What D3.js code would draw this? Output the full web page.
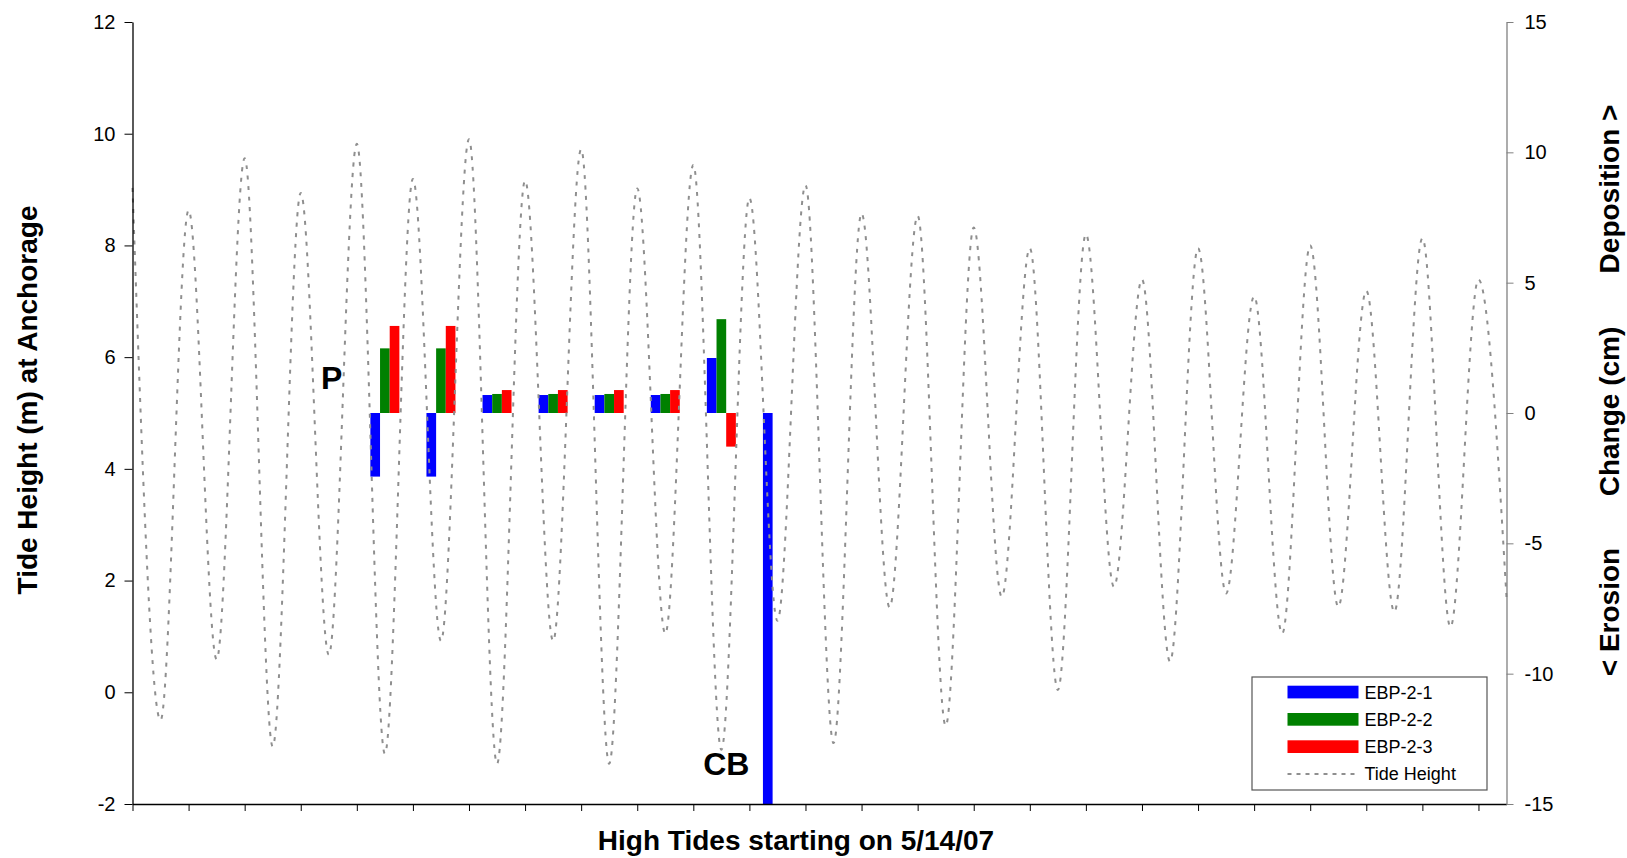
<!DOCTYPE html>
<html><head><meta charset="utf-8">
<script src="https://cdn.jsdelivr.net/npm/d3@7"></script>
<style>
body{margin:0;background:#fff;}
svg{display:block;font-family:"Liberation Sans",Arial,sans-serif;}
</style>
</head><body>
<svg id="chart" width="1627" height="858"></svg>
<script>
// ---- data ----
// tide height (m) at each high tide (at the ticks) and the following low tide
const tideHighs = [9.03, 8.63, 9.56, 8.94, 9.82, 9.19, 9.90, 9.16, 9.72, 9.02, 9.44, 8.85, 9.08,
                   8.57, 8.53, 8.32, 7.95, 8.20, 7.39, 7.95, 7.09, 8.00, 7.19, 8.13, 7.39];
const tideLows  = [-0.50, 0.59, -0.97, 0.67, -1.10, 0.92, -1.28, 0.92, -1.28, 1.05, -1.03, 1.28, -0.91,
                   1.52, -0.60, 1.71, 0.04, 1.89, 0.55, 1.77, 1.05, 1.53, 1.44, 1.17, 1.70];
// high-tide interval index of each bar group
const barCategories = [4, 5, 6, 7, 8, 9, 10, 11];
// change (cm)
const ebp21 = [-2.44, -2.44, 0.69, 0.69, 0.69, 0.69, 2.11, -15];
const ebp22 = [2.48, 2.48, 0.73, 0.73, 0.73, 0.73, 3.60, null];
const ebp23 = [3.34, 3.34, 0.88, 0.88, 0.88, 0.88, -1.29, null];
const seriesNames = ["EBP-2-1", "EBP-2-2", "EBP-2-3"];
const seriesColors = ["#0000ff", "#008000", "#ff0000"];
const leftTicks = [-2, 0, 2, 4, 6, 8, 10, 12];
const rightTicks = [-15, -10, -5, 0, 5, 10, 15];

// ---- layout ----
const FONT = "'Liberation Sans', Arial, sans-serif";
const plot = {left: 132.5, right: 1506.5, top: 22, bottom: 804};
const nHigh = tideHighs.length;
const x = d3.scaleLinear().domain([0, nHigh - 0.5]).range([plot.left, plot.right]);
const yL = d3.scaleLinear().domain([-2, 12]).range([plot.bottom, plot.top]);
const yR = d3.scaleLinear().domain([-15, 15]).range([plot.bottom, plot.top]);
const svg = d3.select("#chart");

// ---- bars ----
const groupW = 29;
const band = d3.scaleBand().domain(seriesNames).range([-groupW / 2, groupW / 2]);
[ebp21, ebp22, ebp23].forEach((vals, si) => {
  svg.append("g")
    .selectAll("rect")
    .data(barCategories.map((c, i) => ({c, v: vals[i]})).filter(d => d.v != null))
    .join("rect")
    .attr("x", d => x(d.c + 0.5) + band(seriesNames[si]))
    .attr("width", band.bandwidth())
    .attr("y", d => yR(Math.max(0, d.v)))
    .attr("height", d => Math.abs(yR(d.v) - yR(0)))
    .attr("fill", seriesColors[si]);
});

// ---- tide line ----
const tidePts = [];
tideHighs.forEach((h, i) => { tidePts.push([i, h]); tidePts.push([i + 0.5, tideLows[i]]); });
svg.append("path")
  .datum(tidePts)
  .attr("d", d3.line().x(d => x(d[0])).y(d => yL(d[1])).curve(d3.curveMonotoneX))
  .attr("fill", "none")
  .attr("stroke", "#8f8f8f")
  .attr("stroke-width", 2)
  .attr("stroke-dasharray", "4,6.5");

// ---- axes ----
const fmt = d => String(d);
const gL = svg.append("g").attr("transform", `translate(${plot.left},0)`)
  .call(d3.axisLeft(yL).tickValues(leftTicks).tickFormat(fmt).tickSize(8).tickPadding(9).tickSizeOuter(0));
gL.attr("font-family", FONT).attr("font-size", 20).attr("color", "#000");
gL.select(".domain").attr("stroke-width", 1.3);

const gB = svg.append("g").attr("transform", `translate(0,${plot.bottom})`)
  .call(d3.axisBottom(x).tickValues(d3.range(nHigh)).tickFormat("").tickSize(7).tickSizeOuter(0));
gB.attr("color", "#000");
gB.select(".domain").attr("stroke-width", 1.3);

const gR = svg.append("g").attr("transform", `translate(${plot.right},0)`)
  .call(d3.axisRight(yR).tickValues(rightTicks).tickFormat(fmt).tickSize(7).tickPadding(11).tickSizeOuter(0));
gR.attr("font-family", FONT).attr("font-size", 20).attr("color", "#808080");
gR.select(".domain").attr("stroke-width", 1.3);
gR.selectAll("text").attr("fill", "#000");

// ---- axis titles ----
svg.append("text")
  .attr("transform", "translate(37,400) rotate(-90)")
  .attr("text-anchor", "middle").attr("font-family", FONT)
  .attr("font-size", 28).attr("font-weight", "bold")
  .text("Tide Height (m) at Anchorage");

svg.append("text")
  .attr("x", 796).attr("y", 850)
  .attr("text-anchor", "middle").attr("font-family", FONT)
  .attr("font-size", 28).attr("font-weight", "bold")
  .text("High Tides starting on 5/14/07");

const rightTitles = [["Deposition >", 189], ["Change (cm)", 411.5], ["< Erosion", 612]];
rightTitles.forEach(([t, cy]) => {
  svg.append("text")
    .attr("transform", `translate(1619,${cy}) rotate(-90)`)
    .attr("text-anchor", "middle").attr("font-family", FONT)
    .attr("font-size", 28).attr("font-weight", "bold")
    .text(t);
});

// ---- annotations ----
svg.append("text")
  .attr("x", x(3.5) + 3).attr("y", 389)
  .attr("text-anchor", "middle").attr("font-family", FONT)
  .attr("font-size", 32).attr("font-weight", "bold").text("P");
svg.append("text")
  .attr("x", x(10.5) + 5).attr("y", 775)
  .attr("text-anchor", "middle").attr("font-family", FONT)
  .attr("font-size", 32).attr("font-weight", "bold").text("CB");

// ---- legend ----
const lg = svg.append("g").attr("transform", "translate(1252,677)");
lg.append("rect").attr("width", 235).attr("height", 113)
  .attr("fill", "#fff").attr("stroke", "#555").attr("stroke-width", 1.2);
const legendItems = seriesNames.map((n, i) => ({name: n, color: seriesColors[i], type: "bar"}))
  .concat([{name: "Tide Height", color: "#8f8f8f", type: "line"}]);
legendItems.forEach((d, i) => {
  const cy = 15 + i * 27.3;
  if (d.type === "bar") {
    lg.append("rect").attr("x", 35.5).attr("y", cy - 6.3).attr("width", 71).attr("height", 12.7).attr("fill", d.color);
  } else {
    lg.append("line").attr("x1", 35.5).attr("x2", 106.5).attr("y1", cy).attr("y2", cy)
      .attr("stroke", d.color).attr("stroke-width", 2).attr("stroke-dasharray", "4,5");
  }
  lg.append("text").attr("x", 112.5).attr("y", cy + 6.5)
    .attr("font-family", FONT).attr("font-size", 18).text(d.name);
});
</script>
</body></html>
